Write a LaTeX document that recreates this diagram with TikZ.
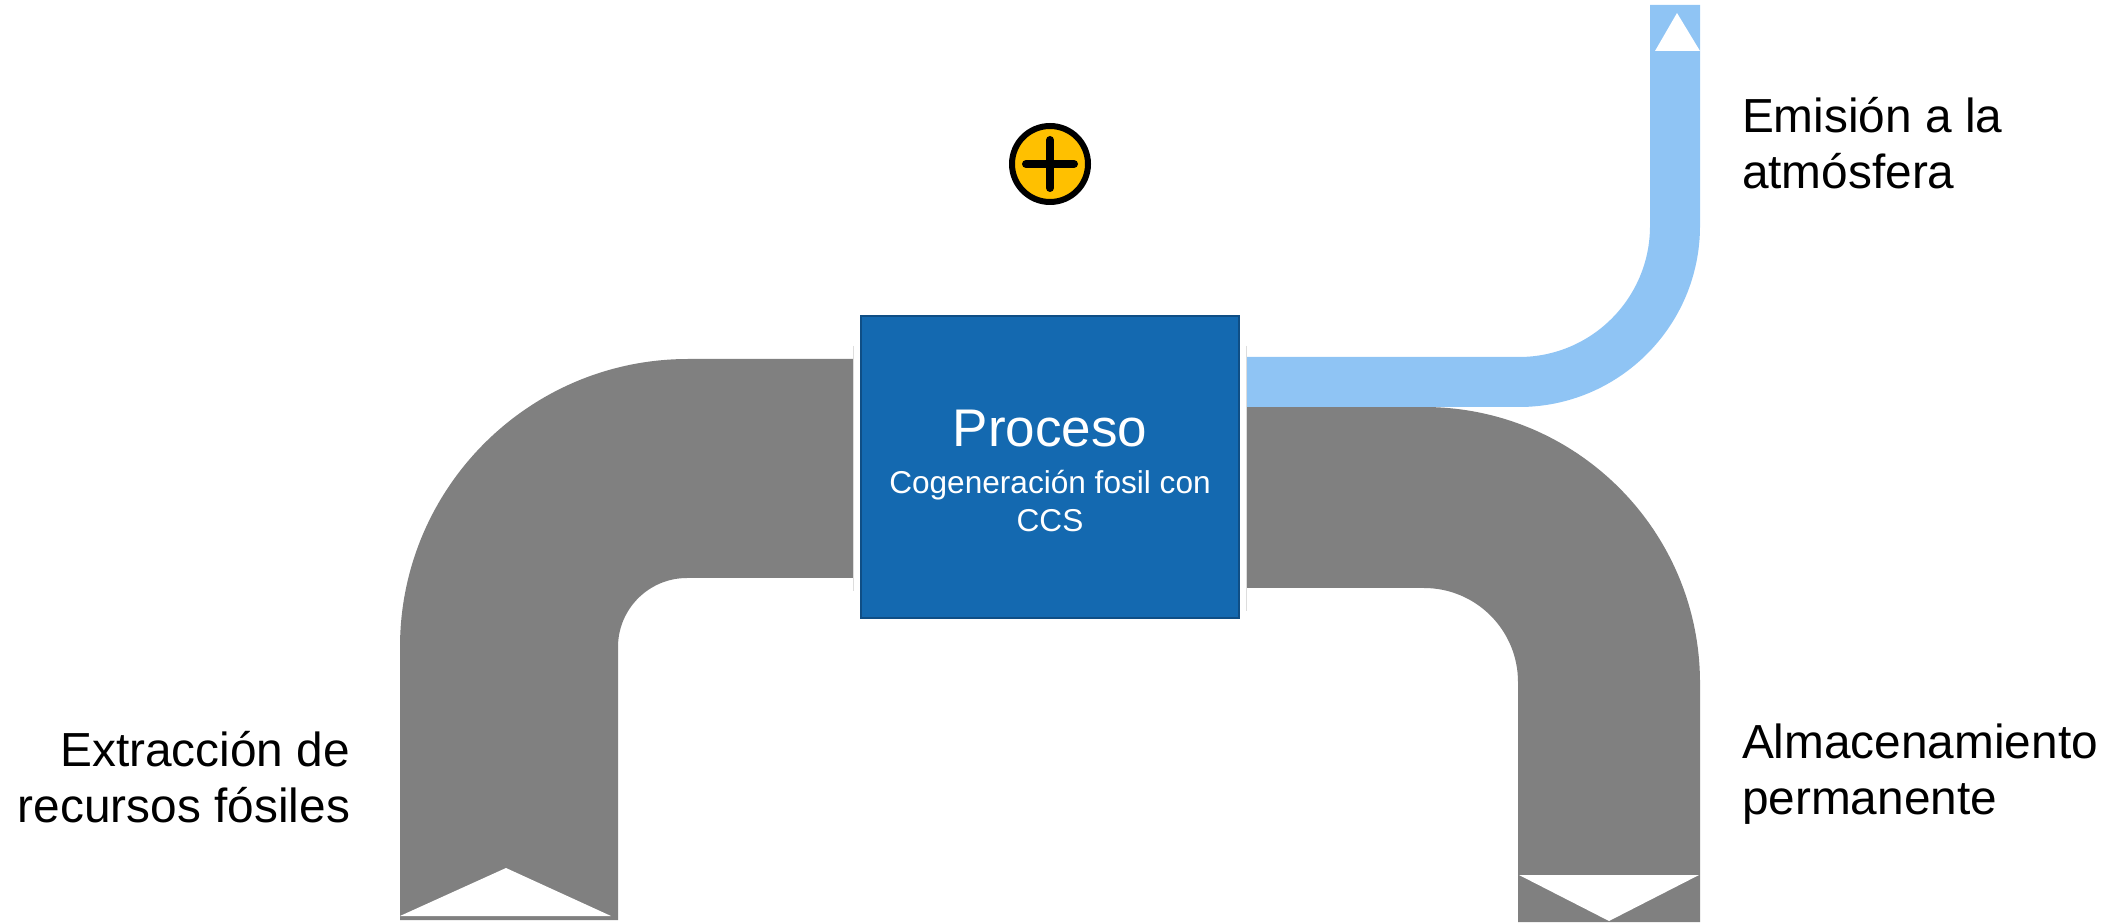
\documentclass[tikz,border=0pt]{standalone}
\usepackage{fontspec}
\setmainfont{Liberation Sans}
\definecolor{pipegray}{HTML}{808080}
\definecolor{pipeblue}{HTML}{8FC4F4}
\definecolor{boxblue}{HTML}{1469B0}
\definecolor{boxedge}{HTML}{0F4E85}
\definecolor{plusyellow}{HTML}{FFC000}
\definecolor{hairline}{HTML}{DDDDDD}
\tikzset{
  pipegrayfill/.style={fill=pipegray,draw=none},
  pipebluefill/.style={fill=pipeblue,draw=none},
  flowmark/.style={fill=white,draw=none},
  sidelabel/.style={font=\fontsize{47.8}{56}\selectfont,text=black,inner sep=0pt,outer sep=0pt},
  processbox/.style={fill=boxblue,draw=boxedge,line width=2.5pt,minimum width=378pt,minimum height=302pt,inner sep=0pt},
  processtext/.style={text=white,align=center,inner sep=0pt},
  hair/.style={draw=hairline,line width=1pt}
}
\begin{document}
\begin{tikzpicture}[x=1pt,y=1pt]
\useasboundingbox (0,0) rectangle (2126,922);
% left grey pipe
\path[pipegrayfill] (400,2) -- (400,275) arc[start angle=180,end angle=90,radius=288] -- (853,563) -- (853,344) -- (687,344) arc[start angle=90,end angle=180,radius=69] -- (618,2) -- cycle;
\path[flowmark] (400,6) -- (506,54) -- (611,6) -- cycle;
% right grey pipe
\path[pipegrayfill] (1246,515) -- (1424,515) arc[start angle=90,end angle=0,radius=276] -- (1700,0) -- (1518,0) -- (1518,240) arc[start angle=0,end angle=90,radius=94] -- (1246,334) -- cycle;
\path[flowmark] (1519,47) -- (1609,1) -- (1699,47) -- cycle;
% blue pipe
\path[pipebluefill] (1246,565) -- (1519,565) arc[start angle=-90,end angle=0,radius=131] -- (1650,917) -- (1700,917) -- (1700,696) arc[start angle=0,end angle=-90,radius=181] -- (1246,515) -- cycle;
\path[flowmark] (1655,871) -- (1677,909) -- (1700,871) -- cycle;
% hairlines
\draw[hair] (853,576) -- (853,331);
\draw[hair] (1246,576) -- (1246,311);
% process
\node[processbox] (proc) at (1050,455) {};
\node[processtext] (proctext) at ([yshift=-4pt]proc.center) {\fontsize{53}{60}\selectfont Proceso\\[22pt]\fontsize{31.6}{37}\selectfont Cogeneración fosil con\\[8pt]\fontsize{31.6}{37}\selectfont CCS};
% plus
\node[circle,fill=plusyellow,draw=black,line width=6pt,minimum size=76pt,inner sep=0pt] (plus) at (1050,758) {};
\draw[black,line width=8pt,line cap=round] ([xshift=-24pt]plus.center) -- ([xshift=24pt]plus.center);
\draw[black,line width=8pt,line cap=round] ([yshift=-24pt]plus.center) -- ([yshift=24pt]plus.center);
% labels
\node[sidelabel,align=right,anchor=east] (src) at (350,145) {Extracción de\\recursos fósiles};
\node[sidelabel,align=left,anchor=west] (atm) at (1742,779) {Emisión a la\\atmósfera};
\node[sidelabel,align=left,anchor=west] (sto) at (1742,148) {Almacenamiento\\permanente};
\end{tikzpicture}
\end{document}
